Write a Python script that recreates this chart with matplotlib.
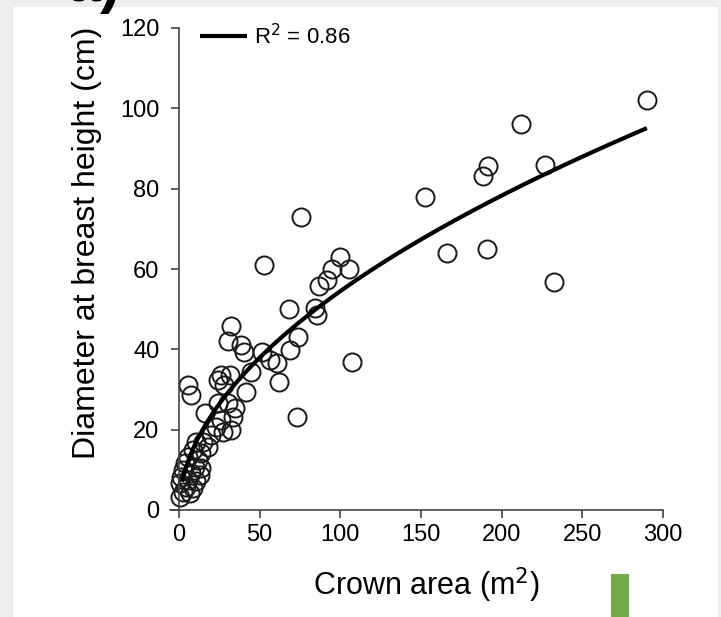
import numpy as np
import matplotlib.pyplot as plt
from matplotlib.patches import Rectangle

plt.rcParams['font.family'] = ['Liberation Sans', 'DejaVu Sans']

# crown area (m2) and DBH (cm)
crown_area = [290.0, 211.8, 191.8, 188.3, 226.9, 152.5, 166.0, 190.8, 232.5,
              75.4, 52.7, 99.8, 105.6, 94.7, 91.6, 87.0, 68.4, 84.3, 85.4,
              74.0, 68.8, 51.3, 56.4, 60.6, 62.2, 107.0, 73.0,
              32.2, 30.4, 38.4, 40.3, 44.6, 41.7,
              5.6, 7.6, 26.2, 31.4, 24.2, 27.9, 15.9, 24.2, 30.4, 34.5, 33.5,
              26.2, 23.1, 32.4, 27.3, 20.0, 14.9, 10.7, 18.0, 8.7, 13.8, 5.6,
              11.8, 3.5, 9.7, 13.8, 2.5, 7.6, 12.8, 1.4, 5.6, 10.7, 0.4, 4.5,
              8.7, 2.5, 6.6, 0.4]
dbh = [102.1, 96.0, 85.6, 83.2, 85.9, 78.0, 63.9, 64.9, 56.7,
       73.0, 61.0, 63.1, 59.9, 59.9, 57.3, 55.8, 50.0, 50.2, 48.5,
       43.1, 39.8, 39.4, 37.3, 36.5, 31.9, 36.9, 23.2,
       45.8, 42.1, 41.1, 39.3, 34.4, 29.4,
       31.1, 28.6, 33.6, 33.6, 32.4, 31.0, 24.1, 26.6, 26.6, 25.3, 23.2,
       22.4, 20.7, 19.9, 19.5, 18.7, 17.0, 17.0, 15.8, 14.9, 14.1, 13.3,
       12.4, 11.6, 10.8, 10.4, 10.0, 9.1, 8.7, 8.3, 7.5, 7.1, 6.6, 5.8,
       5.4, 4.6, 4.2, 3.3]

# power-law fit DBH = a * CA^b
fit_a, fit_b = 4.9, 0.523
fit_x = np.linspace(2, 290, 200)
r2_label = 'R$^2$ = 0.86'

fig = plt.figure(figsize=(7.21, 6.17), dpi=100, facecolor='#eeeeee')
fig.patches.append(Rectangle((13/721, 0), 705/721, 610/617, transform=fig.transFigure,
                             facecolor='white', edgecolor='none', zorder=-1))
fig.patches.append(Rectangle((611/721, 0), 18/721, 43/617, transform=fig.transFigure,
                             facecolor='#70ad47', edgecolor='none'))
# panel letter, cut off by the top edge as in the source
fig.text(120/721, 1 - 1/617, 'a)', fontsize=44, fontweight='bold', ha='right', va='baseline')

ax = fig.add_axes([170/721, 107/617, 493/721, 482/617])
ax.plot(crown_area, dbh, 'o', mfc='none', mec='#1a1a1a', ms=13, mew=1.4, clip_on=False)
ax.plot(fit_x, fit_a * fit_x ** fit_b, color='black', lw=3, label=r2_label,
        solid_capstyle='butt')

ax.set_xlim(-5.5, 300)
ax.set_ylim(0, 120)
ax.set_xticks(range(0, 301, 50))
ax.set_yticks(range(0, 121, 20))
ax.spines['top'].set_visible(False)
ax.spines['right'].set_visible(False)
ax.spines['left'].set_position(('data', 0))
for s in ('left', 'bottom'):
    ax.spines[s].set_color('#444444')
    ax.spines[s].set_linewidth(1.2)
ax.tick_params(direction='out', length=6, width=1.2, color='#444444', labelsize=17)
ax.tick_params(axis='y', pad=8)
ax.tick_params(axis='x', pad=4)
ax.patch.set_alpha(0)

ax.set_xlabel('Crown area (m$^2$)', fontsize=22)
ax.set_ylabel('Diameter at breast height (cm)', fontsize=23)
ax.xaxis.set_label_coords(0.52, -0.115)
ax.yaxis.set_label_coords(-0.138, 0.554)

ax.legend(loc='upper left', bbox_to_anchor=(0.02, 1.05), frameon=False,
          fontsize=16, handlelength=2.1, handletextpad=0.35)

fig.savefig('out.png', dpi=100, facecolor=fig.get_facecolor())
